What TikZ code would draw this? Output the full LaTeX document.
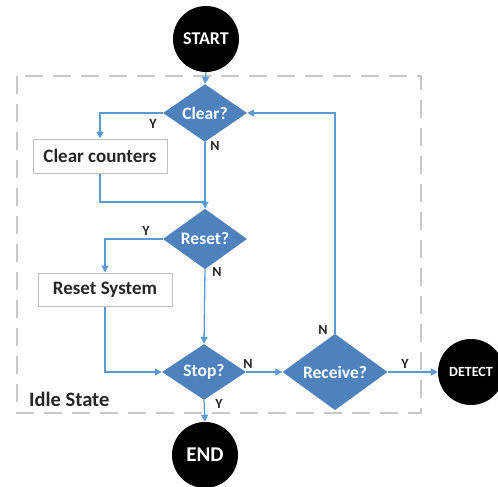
\documentclass[tikz,border=0pt]{standalone}
\usepackage{fontspec}
\setmainfont{Carlito}
\usetikzlibrary{shapes.geometric,arrows.meta}
\definecolor{decfill}{HTML}{4F81BD}
\definecolor{flowline}{HTML}{5B9BD5}
\definecolor{boxline}{HTML}{BFBFBF}
\definecolor{framegray}{HTML}{C8C8C8}
\tikzset{
  terminal/.style={circle, fill=black, text=white, inner sep=0pt,
    minimum size=66pt, font=\bfseries\fontsize{18}{19}\selectfont},
  decision/.style={diamond, fill=decfill, text=white, inner sep=0pt,
    font=\bfseries\fontsize{17.5}{18}\selectfont},
  procbox/.style={rectangle, draw=boxline, line width=1pt, fill=white,
    minimum width=134pt, minimum height=34pt, inner sep=0pt,
    font=\bfseries\fontsize{19}{20}\selectfont, text=black!85},
  flow/.style={draw=flowline, line width=1.3pt},
  flowarrow/.style={flow, -{Triangle[length=7pt,width=7pt]}},
  yn/.style={font=\bfseries\fontsize{14}{15}\selectfont, text=black!85, inner sep=0pt},
}
\begin{document}
\begin{tikzpicture}[x=1pt,y=-1pt]
\useasboundingbox (0,0) rectangle (498,487);

% idle-state frame
\draw[framegray, line width=1.3pt, dash pattern=on 18pt off 10pt] (17,76) rectangle (421,413);
\node[anchor=base west, inner sep=0pt, font=\bfseries\fontsize{20.5}{21}\selectfont, text=black!85]
  (idle) at (29,406) {Idle State};

% terminals
\node[terminal] (start) at (206,39) {START};
\node[terminal, font=\bfseries\fontsize{21}{22}\selectfont] (stopend) at (205,455) {END};
\node[terminal, font=\bfseries\fontsize{14}{15}\selectfont] (detect) at (471,372) {DETECT};

% decisions
\node[decision, minimum width=84pt, minimum height=50pt] (clear) at (205,113) {Clear?};
\node[decision, minimum width=84pt, minimum height=48pt] (reset) at (205,239) {Reset?};
\node[decision, minimum width=84pt, minimum height=50pt] (stop) at (204,372) {Stop?};
\node[decision, minimum width=105pt, minimum height=50pt] (recv) at (335,372) {Receive?};

% process boxes
\node[procbox] (cc) at (100,156) {Clear counters};
\node[procbox, minimum height=33pt] (rs) at (105,289.5) {Reset System};

% connectors
\coordinate (merge) at (205,202);
\draw[flowarrow] (start.south) -- (clear.north);
\draw[flowarrow] (clear.west) -| (cc.north);
\draw[flowarrow] (clear.south) -- (reset.north);
\draw[flow] (cc.south) |- (merge);
\draw[flowarrow] (reset.west) -| (rs.north);
\draw[flowarrow] (reset.south) -- (stop.north);
\draw[flowarrow] (rs.south) |- (stop.west);
\draw[flowarrow] (stop.east) -- (recv.west);
\draw[flowarrow] (recv.east) -- (detect.west);
\draw[flowarrow] (recv.north) |- (clear.east);
\draw[flowarrow] (stop.south) -- (stopend.north);

% branch labels
\node[yn] (y1) at (153,124) {Y};
\node[yn] (n1) at (215,146) {N};
\node[yn] (y2) at (146,231) {Y};
\node[yn] (n2) at (217,272) {N};
\node[yn] (n3) at (248,364) {N};
\node[yn] (y3) at (219,404) {Y};
\node[yn] (n4) at (323,330) {N};
\node[yn] (y4) at (405,364) {Y};
\end{tikzpicture}
\end{document}
